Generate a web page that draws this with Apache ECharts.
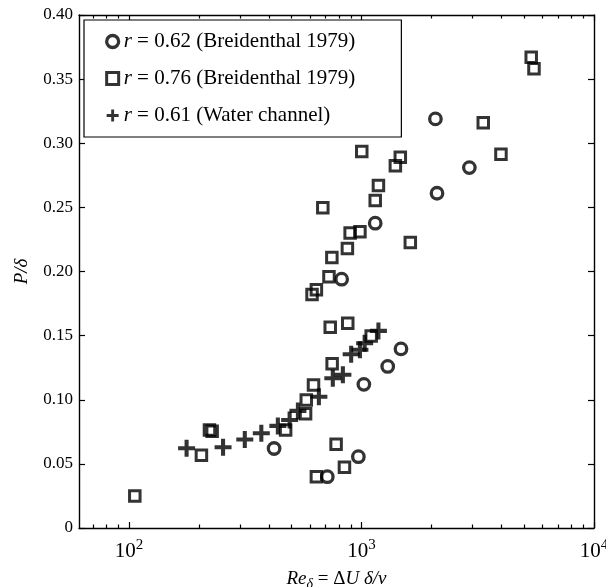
<!DOCTYPE html>
<html><head><meta charset="utf-8">
<script src="https://cdn.jsdelivr.net/npm/echarts@6/dist/echarts.min.js"></script>
<style>html,body{margin:0;padding:0;background:#fff}#c{width:606px;height:587px}</style>
</head><body><div id="c"></div>
<script>
// ---- data (Re_delta, P/delta) ----
const nameCircle = 'r = 0.62 (Breidenthal 1979)';
const reCircle = [421, 713, 970, 1024, 1297, 1479, 822, 1146, 2113, 2911, 2080];
const pCircle  = [0.062, 0.040, 0.0556, 0.112, 0.126, 0.1396, 0.194, 0.2377, 0.261, 0.281, 0.319];

const nameSquare = 'r = 0.76 (Breidenthal 1979)';
const reSquare = [106, 205, 222, 228, 472, 575, 579, 622, 748, 778, 640, 845, 734, 873, 1101,
                  613, 640, 725, 746, 870, 894, 985, 682, 1146, 1183, 1003, 1399, 1469, 1622,
                  3340, 3980, 5370, 5520];
const pSquare  = [0.025, 0.0567, 0.0765, 0.0755, 0.0764, 0.089, 0.0998, 0.1115, 0.128, 0.0653, 0.040, 0.0473, 0.1566, 0.1597, 0.1498,
                  0.182, 0.1857, 0.196, 0.211, 0.218, 0.230, 0.231, 0.2498, 0.2553, 0.267, 0.2935, 0.2824, 0.289, 0.2226,
                  0.316, 0.2915, 0.367, 0.358];

const namePlus = 'r = 0.61 (Water channel)';
const rePlus = [177, 254, 315, 371, 437, 491, 533, 656, 753, 832, 903, 985, 1032, 1183];
const pPlus  = [0.0622, 0.063, 0.069, 0.0739, 0.0796, 0.0842, 0.0913, 0.1024, 0.1168, 0.1195, 0.1355, 0.139, 0.144, 0.1537];

// ---- axes ----
const xMin = 61, xMax = 10000;
const xMajorTicks = [100, 1000, 10000];
const xMinorTicks = [70, 80, 90, 200, 300, 400, 500, 600, 700, 800, 900,
                     2000, 3000, 4000, 5000, 6000, 7000, 8000, 9000];
const yTickLabels = ['0', '0.05', '0.10', '0.15', '0.20', '0.25', '0.30', '0.35', '0.40'];

const L = Math.log10;
const FONT = '"Liberation Serif", "Times New Roman", serif';
const pts = (xs, ys) => xs.map((x, i) => [L(x), ys[i]]);
const plusPath = 'path://M3.8,0H6.2V3.8H10V6.2H6.2V10H3.8V6.2H0V3.8H3.8Z';

function xAx(pos, ticks, len, labels, line) {
  return {
    type: 'value', position: pos, min: L(xMin), max: L(xMax),
    axisLine: { show: line, onZero: false, lineStyle: { color: '#000', width: 1.4 } },
    axisTick: { show: true, inside: true, length: len, customValues: ticks.map(L),
                lineStyle: { color: '#000', width: 1.2 } },
    axisLabel: labels ? {
      show: true, customValues: xMajorTicks.map(L), margin: 10, color: '#000',
      fontFamily: FONT, fontSize: 21,
      formatter: v => '10{sup|' + Math.round(v) + '}',
      rich: { sup: { fontFamily: FONT, fontSize: 15, padding: [0, 0, 11, 0], color: '#000' } }
    } : { show: false },
    splitLine: { show: false }
  };
}
function yAx(pos, labels) {
  return {
    type: 'value', position: pos, min: 0, max: 0.4, interval: 0.05,
    axisLine: { show: true, onZero: false, lineStyle: { color: '#000', width: 1.4 } },
    axisTick: { show: true, inside: true, length: 6, lineStyle: { color: '#000', width: 1.2 } },
    axisLabel: labels ? {
      show: true, margin: 6, color: '#000', fontFamily: FONT, fontSize: 17,
      formatter: v => yTickLabels[Math.round(v / 0.05)]
    } : { show: false },
    splitLine: { show: false }
  };
}

const xAxes = [xAx('bottom', xMajorTicks, 6, true, true), xAx('bottom', xMinorTicks, 3.5, false, false),
               xAx('top', xMajorTicks, 6, false, true), xAx('top', xMinorTicks, 3.5, false, false)];
xAxes[0].name = '{it|Re}{sub|δ} = Δ{it|U} {it|δ/ν}';
xAxes[0].nameLocation = 'middle';
xAxes[0].nameGap = 39;
xAxes[0].nameTextStyle = {
  fontFamily: FONT, fontSize: 19, color: '#000',
  rich: { it: { fontFamily: FONT, fontSize: 19, fontStyle: 'italic', color: '#000' },
          sub: { fontFamily: FONT, fontSize: 14, fontStyle: 'italic', padding: [10, 0, 0, 0], color: '#000' } }
};
const yAxes = [yAx('left', true), yAx('right', false)];
yAxes[0].name = 'P/δ';
yAxes[0].nameLocation = 'middle';
yAxes[0].nameRotate = 90;
yAxes[0].nameGap = 48;
yAxes[0].nameTextStyle = { fontFamily: FONT, fontSize: 19, fontStyle: 'italic', color: '#000' };

const hollow = { color: 'rgba(0,0,0,0)', borderColor: '#000', borderWidth: 3.3 };

const option = {
  animation: false,
  backgroundColor: '#fff',
  grid: { left: 79, right: 12, top: 15, bottom: 59, containLabel: false, outerBoundsMode: 'none' },
  xAxis: xAxes,
  yAxis: yAxes,
  legend: {
    orient: 'vertical', left: 84, top: 20,
    itemWidth: 12, itemHeight: 12, itemGap: 16, itemTextGap: 16,
    padding: [11, 46, 11, 21],
    borderColor: '#000', borderWidth: 1.2, borderRadius: 0, backgroundColor: '#fff',
    selectedMode: false,
    textStyle: { fontFamily: FONT, fontSize: 21, color: '#000',
                 rich: { it: { fontFamily: FONT, fontSize: 21, fontStyle: 'italic', color: '#000' } } },
    formatter: n => '{it|r}' + n.slice(1),
    data: [
      { name: nameCircle, icon: 'circle', itemStyle: hollow },
      { name: nameSquare, icon: 'rect', itemStyle: { color: 'rgba(0,0,0,0)', borderColor: '#000', borderWidth: 3 } },
      { name: namePlus, icon: plusPath, itemStyle: { color: '#000', borderWidth: 0 } }
    ]
  },
  series: [
    { name: nameCircle, type: 'scatter', silent: true, symbol: 'circle', symbolSize: 11.5,
      itemStyle: hollow, data: pts(reCircle, pCircle) },
    { name: nameSquare, type: 'scatter', silent: true, symbol: 'rect', symbolSize: 10.5,
      itemStyle: { color: 'rgba(0,0,0,0)', borderColor: '#000', borderWidth: 3 }, data: pts(reSquare, pSquare) },
    { name: namePlus, type: 'scatter', silent: true, symbol: plusPath, symbolSize: 17,
      itemStyle: { color: '#000' }, data: pts(rePlus, pPlus) }
  ]
};
const chart = echarts.init(document.getElementById('c'), null, { renderer: 'canvas' });
chart.setOption(option);
</script></body></html>
